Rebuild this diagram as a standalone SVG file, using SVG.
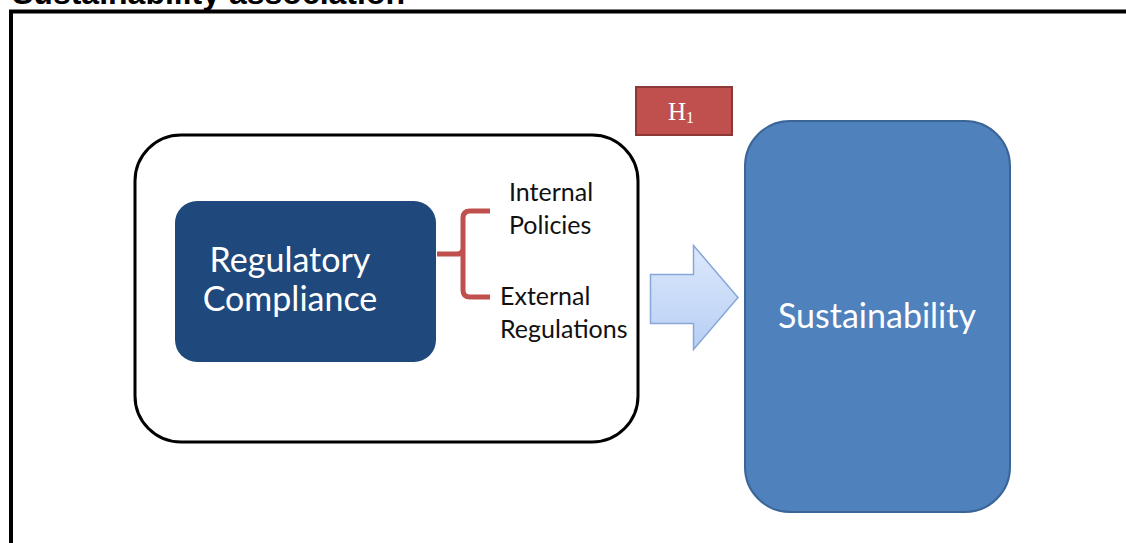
<svg xmlns="http://www.w3.org/2000/svg" width="1126" height="543" viewBox="0 0 1126 543">
  <defs>
    <style>
      .title { font-family: "Liberation Sans", Arial, sans-serif; font-weight: bold; font-size: 32px; fill: #000; }
      .label { font-family: Lato, "Open Sans", sans-serif; fill: #fff; }
      .side { font-family: Lato, "Open Sans", sans-serif; font-size: 25px; fill: #111; }
      .hyp { font-family: "Liberation Serif", "Times New Roman", serif; fill: #fff; }
    </style>
    <linearGradient id="arrowFill" x1="0" y1="0" x2="0" y2="1">
      <stop offset="0" stop-color="#dde8fc"/>
      <stop offset="1" stop-color="#b7cff4"/>
    </linearGradient>
  </defs>

  <rect width="1126" height="543" fill="#fff"/>

  <!-- heading, partly above the frame -->
  <text class="title" x="12" y="4">Sustainability association</text>

  <!-- figure frame -->
  <path d="M11 543 V11.5 H1126" fill="none" stroke="#000" stroke-width="4"/>

  <!-- grouping frame around the compliance construct -->
  <g id="construct-frame">
    <rect x="135" y="135" width="503" height="307" rx="46" fill="#fff" stroke="#000" stroke-width="3"/>
  </g>

  <g id="regulatory-compliance">
    <rect x="175" y="201" width="261" height="161" rx="22" fill="#1f497d"/>
    <text class="label" font-size="34" text-anchor="middle" x="290" y="272">Regulatory</text>
    <text class="label" font-size="34" text-anchor="middle" x="290" y="311">Compliance</text>
  </g>

  <g id="dimensions">
    <text class="side" x="509" y="201">Internal</text>
    <text class="side" x="509" y="234">Policies</text>
    <text class="side" x="500" y="305">External</text>
    <text class="side" x="500" y="338">Regulations</text>
  </g>

  <g id="hypothesis">
    <rect x="636" y="87" width="96" height="48" fill="#c0504d" stroke="#8c3836" stroke-width="2"/>
    <text class="hyp" font-size="25" x="668" y="120">H<tspan font-size="16" dy="3">1</tspan></text>
  </g>

  <g id="sustainability">
    <rect x="745" y="121" width="265" height="391" rx="45" fill="#4f81bd" stroke="#3b6497" stroke-width="2"/>
    <text class="label" font-size="34" text-anchor="middle" x="877" y="328">Sustainability</text>
  </g>

  <g id="connectors">
    <!-- brace linking the construct to its two dimensions -->
    <path d="M437 254 H460 M490 211 H470 Q463 211 463 218 V290 Q463 297 470 297 H490 M463 248 Q463 254 457 254" fill="none" stroke="#c0504d" stroke-width="5" stroke-linejoin="round"/>
    <!-- block arrow towards sustainability -->
    <path d="M650.5 274.5 H693.5 V245.5 L738 297.5 L693.5 349.5 V323.5 H650.5 Z" fill="url(#arrowFill)" stroke="#86a7d8" stroke-width="1.5"/>
  </g>
</svg>
